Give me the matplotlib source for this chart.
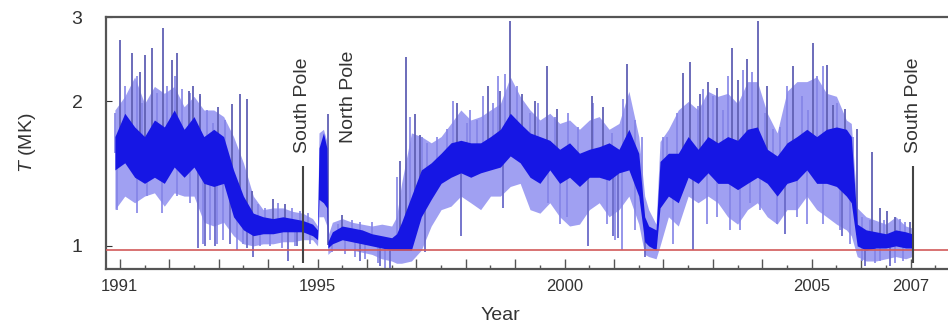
import matplotlib
matplotlib.use('Agg')
import matplotlib.pyplot as plt
import numpy as np

# time grid (years) and band edges, T in MK
years = [1990.9, 1991.1, 1991.3, 1991.5, 1991.7, 1991.9, 1992.1, 1992.3, 1992.5, 1992.7,
         1992.9, 1993.1, 1993.3, 1993.5, 1993.7, 1993.9, 1994.1, 1994.3, 1994.5, 1994.7,
         1994.9, 1995.0, 1995.03, 1995.12, 1995.19, 1995.21, 1995.3, 1995.5, 1995.7, 1995.9,
         1996.1, 1996.3, 1996.5, 1996.6, 1996.7, 1996.9, 1997.1, 1997.3, 1997.5, 1997.7,
         1997.9, 1998.1, 1998.3, 1998.5, 1998.7, 1998.9, 1999.1, 1999.3, 1999.5, 1999.7,
         1999.9, 2000.1, 2000.3, 2000.5, 2000.7, 2000.9, 2001.1, 2001.3, 2001.5, 2001.62,
         2001.7, 2001.85, 2001.93, 2002.1, 2002.3, 2002.5, 2002.7, 2002.9, 2003.1, 2003.3,
         2003.5, 2003.7, 2003.9, 2004.1, 2004.3, 2004.5, 2004.7, 2004.9, 2005.1, 2005.3,
         2005.5, 2005.7, 2005.8, 2005.92, 2006.1, 2006.3, 2006.5, 2006.7, 2006.9, 2007.03]
core_lo = [1.44, 1.49, 1.39, 1.35, 1.39, 1.35, 1.46, 1.39, 1.46, 1.35,
           1.33, 1.35, 1.15, 1.08, 1.05, 1.06, 1.06, 1.07, 1.07, 1.07,
           1.05, 1.03, 1.25, 1.23, 1.20, 0.99, 1.01, 1.03, 1.02, 1.01,
           1.00, 0.99, 0.98, 0.98, 0.98, 0.98, 1.15, 1.25, 1.35, 1.39,
           1.42, 1.39, 1.42, 1.44, 1.46, 1.54, 1.49, 1.39, 1.35, 1.44,
           1.35, 1.39, 1.33, 1.39, 1.39, 1.37, 1.42, 1.44, 1.27, 1.02,
           1.00, 0.98, 1.20, 1.27, 1.23, 1.39, 1.35, 1.42, 1.35, 1.35,
           1.31, 1.35, 1.39, 1.35, 1.27, 1.35, 1.37, 1.44, 1.35, 1.35,
           1.33, 1.27, 1.23, 1.00, 0.98, 0.99, 0.99, 1.00, 0.99, 0.99]
core_hi = [1.69, 1.89, 1.77, 1.69, 1.83, 1.77, 1.92, 1.75, 1.86, 1.69,
           1.75, 1.69, 1.44, 1.27, 1.17, 1.15, 1.14, 1.15, 1.14, 1.13,
           1.11, 1.08, 1.60, 1.72, 1.60, 1.02, 1.07, 1.10, 1.09, 1.08,
           1.06, 1.05, 1.04, 1.06, 1.12, 1.27, 1.44, 1.49, 1.56, 1.64,
           1.66, 1.64, 1.64, 1.69, 1.75, 1.89, 1.80, 1.72, 1.69, 1.66,
           1.59, 1.64, 1.56, 1.59, 1.61, 1.64, 1.59, 1.75, 1.56, 1.15,
           1.10, 1.08, 1.50, 1.56, 1.56, 1.69, 1.59, 1.69, 1.64, 1.69,
           1.66, 1.75, 1.77, 1.59, 1.54, 1.64, 1.69, 1.75, 1.69, 1.75,
           1.77, 1.75, 1.69, 1.11, 1.08, 1.07, 1.06, 1.08, 1.07, 1.06]
env_lo = [1.19, 1.27, 1.23, 1.27, 1.29, 1.21, 1.29, 1.27, 1.27, 1.12,
          1.10, 1.12, 1.05, 1.01, 1.00, 1.01, 1.01, 1.02, 1.02, 1.03,
          1.03, 1.00, 1.15, 1.15, 1.10, 0.96, 0.98, 0.98, 0.98, 0.97,
          0.96, 0.94, 0.93, 0.92, 0.92, 0.93, 0.98, 1.10, 1.19, 1.21,
          1.27, 1.23, 1.19, 1.27, 1.27, 1.33, 1.35, 1.19, 1.17, 1.23,
          1.15, 1.10, 1.11, 1.19, 1.23, 1.15, 1.19, 1.27, 1.11, 0.96,
          0.95, 0.94, 1.00, 1.15, 1.10, 1.27, 1.23, 1.27, 1.23, 1.15,
          1.11, 1.19, 1.23, 1.15, 1.11, 1.19, 1.19, 1.27, 1.19, 1.15,
          1.11, 1.08, 1.05, 0.95, 0.93, 0.93, 0.94, 0.95, 0.94, 0.95]
env_hi = [1.92, 2.05, 2.25, 1.98, 2.15, 2.08, 2.15, 1.95, 2.05, 1.92,
          1.92, 1.86, 1.69, 1.49, 1.27, 1.19, 1.20, 1.20, 1.18, 1.17,
          1.14, 1.10, 1.72, 1.75, 1.65, 1.05, 1.12, 1.14, 1.12, 1.11,
          1.10, 1.11, 1.10, 1.15, 1.35, 1.72, 1.69, 1.64, 1.69, 1.80,
          1.92, 1.83, 1.86, 1.92, 1.98, 2.25, 2.05, 1.92, 1.83, 1.89,
          1.80, 1.83, 1.75, 1.83, 1.86, 1.75, 1.80, 2.10, 1.69, 1.27,
          1.19, 1.11, 1.65, 1.75, 1.92, 2.00, 1.92, 2.10, 2.05, 2.08,
          1.98, 2.20, 2.20, 1.89, 1.72, 2.10, 2.20, 2.20, 2.25, 2.08,
          2.05, 1.83, 1.80, 1.20, 1.15, 1.13, 1.11, 1.15, 1.10, 1.09]

# isolated dark upward spikes (year, peak T)
spike_years = [1991.0, 1991.24, 1991.40, 1991.51, 1991.65, 1991.87, 1992.05, 1992.15, 1992.40, 1992.48,
               1992.62, 1992.98, 1993.27, 1993.43, 1993.57, 1993.67, 1994.10, 1994.34, 1995.21, 1995.49,
               1996.67, 1996.79, 1996.97, 1997.07, 1997.82, 1998.45, 1998.69, 1998.89, 1999.14, 1999.40,
               1999.64, 1999.85, 2000.55, 2000.78, 2001.26, 2002.40, 2002.54, 2002.74, 2002.90, 2003.09,
               2003.39, 2003.51, 2003.69, 2003.91, 2004.10, 2004.62, 2005.03, 2005.31, 2005.43, 2005.68,
               2005.92, 2006.22, 2006.38, 2006.53, 2006.69, 2006.99]
spike_tops = [2.69, 2.53, 2.30, 2.50, 2.58, 2.84, 2.44, 2.52, 2.10, 2.15,
              2.07, 1.95, 1.98, 2.07, 2.02, 1.30, 1.25, 1.22, 1.88, 1.16,
              1.50, 2.48, 1.88, 1.70, 1.99, 2.15, 2.10, 2.94, 2.07, 2.00,
              2.37, 1.93, 2.05, 1.95, 2.39, 2.29, 2.42, 2.07, 2.20, 2.13,
              2.58, 2.22, 2.45, 2.94, 2.15, 2.37, 2.65, 2.38, 1.97, 1.93,
              1.75, 1.57, 1.20, 1.18, 1.15, 1.12]

# dark downward spikes (year, lowest T)
dip_years = [1992.58, 1992.72, 1992.92, 1993.23, 1993.57, 1993.69, 1994.40, 1994.58, 1995.86, 1996.26,
             1996.47, 1997.17, 1997.90, 1998.75, 2000.47, 2000.98, 2001.08, 2001.63, 2002.60, 2004.46,
             2005.62, 2006.08, 2006.59]
dip_bottoms = [0.99, 1.00, 1.00, 1.01, 0.99, 0.95, 0.93, 1.00, 0.93, 0.91,
               0.90, 0.97, 1.05, 1.20, 1.00, 1.05, 1.04, 0.95, 0.98, 1.06,
               1.05, 0.91, 0.91]

# faint upward excursions (year, peak T)
faint_up_years = [1990.90, 1991.10, 1991.34, 1991.45, 1991.75, 1991.95, 1992.11, 1992.26, 1992.42, 1992.62,
                  1992.76, 1992.88, 1993.13, 1993.79, 1993.94, 1994.20, 1994.48, 1994.64, 1994.81, 1995.41,
                  1995.70, 1995.86, 1996.10, 1996.61, 1996.87, 1997.11, 1997.21, 1997.42, 1997.62, 1997.74,
                  1998.02, 1998.09, 1998.23, 1998.35, 1998.55, 1998.65, 1998.79, 1999.04, 1999.30, 1999.46,
                  1999.81, 2000.07, 2000.27, 2000.57, 2000.96, 2001.18, 2001.43, 2001.57, 2001.99, 2002.07,
                  2002.28, 2002.70, 2002.80, 2003.00, 2003.21, 2003.31, 2003.61, 2003.79, 2004.06, 2004.22,
                  2004.36, 2004.50, 2004.81, 2004.93, 2005.11, 2005.23, 2005.51, 2005.84, 2006.02, 2006.18,
                  2006.47, 2006.79, 2006.89]
faint_up_tops = [1.89, 2.15, 2.26, 1.99, 2.08, 2.15, 2.26, 2.12, 2.08, 2.05,
                 1.92, 1.80, 1.83, 1.22, 1.20, 1.23, 1.20, 1.18, 1.17, 1.11,
                 1.13, 1.12, 1.12, 1.39, 1.86, 1.69, 1.64, 1.69, 1.75, 2.00,
                 1.80, 1.92, 1.83, 2.05, 1.99, 2.26, 2.28, 2.15, 1.89, 1.99,
                 1.86, 1.89, 1.77, 1.99, 1.72, 2.02, 1.83, 1.69, 1.69, 1.69,
                 1.89, 1.96, 2.12, 2.05, 1.92, 2.26, 2.33, 2.30, 1.89, 1.75,
                 1.77, 2.15, 2.05, 1.92, 2.26, 2.37, 1.99, 1.69, 1.15, 1.13,
                 1.13, 1.14, 1.12]

# faint downward excursions (year, lowest T)
faint_dn_years = [1990.94, 1991.34, 1991.55, 1991.85, 1992.15, 1992.42, 1992.68, 1992.82, 1992.96, 1993.09,
                  1993.37, 1993.49, 1993.83, 1994.04, 1994.28, 1994.54, 1994.85, 1995.29, 1995.55, 1995.76,
                  1995.96, 1996.22, 1996.36, 1999.66, 1999.91, 2000.05, 2000.86, 2001.02, 2001.16, 2001.43,
                  2002.19, 2002.88, 2003.08, 2003.35, 2003.55, 2003.75, 2003.96, 2004.30, 2004.70, 2004.91,
                  2005.23, 2005.57, 2005.78, 2006.02, 2006.28, 2006.38, 2006.69, 2006.85]
faint_dn_bottoms = [1.19, 1.17, 1.27, 1.17, 1.27, 1.23, 1.01, 1.03, 1.01, 1.03,
                    0.98, 1.01, 1.00, 1.00, 0.99, 1.00, 1.01, 0.97, 0.96, 0.95,
                    0.94, 0.92, 0.90, 1.23, 1.11, 1.15, 1.11, 1.03, 0.98, 1.08,
                    1.01, 1.11, 1.15, 1.08, 1.08, 1.23, 1.19, 1.11, 1.15, 1.11,
                    1.11, 1.08, 1.01, 0.93, 0.92, 0.93, 0.92, 0.93]

pole_years = [1994.7, 2007.05]
pole_text = ['South Pole', 'South Pole']
north_year = 1995.62
baseline = 0.98
label_years = [1991, 1995, 2000, 2005, 2007]

plt.rcParams['font.family'] = ['Liberation Sans', 'DejaVu Sans']
plt.rcParams['mathtext.fontset'] = 'custom'
plt.rcParams['mathtext.it'] = 'Liberation Sans:italic'
plt.rcParams['mathtext.rm'] = 'Liberation Sans'

fig = plt.figure(figsize=(9.48, 3.29), dpi=100)
ax = fig.add_axes([106 / 948, 60 / 329, 854 / 948, 252 / 329])

yrs = np.array(years)
mid = np.sqrt(np.array(core_lo) * np.array(core_hi))

ax.fill_between(yrs, env_lo, env_hi, color='#a0a0f2', lw=0, zorder=1)
ax.vlines(faint_up_years, np.interp(faint_up_years, yrs, mid), faint_up_tops,
          color='#8484e6', lw=1.2, zorder=2)
ax.vlines(faint_dn_years, faint_dn_bottoms, np.interp(faint_dn_years, yrs, mid),
          color='#8484e6', lw=1.2, zorder=2)
ax.vlines(spike_years, np.interp(spike_years, yrs, mid), spike_tops,
          color='#6060b4', lw=1.3, zorder=2)
ax.vlines(dip_years, dip_bottoms, np.interp(dip_years, yrs, mid),
          color='#6a6ac8', lw=1.3, zorder=2)
ax.fill_between(yrs, core_lo, core_hi, color='#1616e4', lw=0, zorder=3)
ax.axhline(baseline, color='#d25a5a', lw=1.2, zorder=4)

ax.vlines(pole_years, 0.92, 1.47, color='#444444', lw=1.5, zorder=5)
for yr, txt in zip(pole_years, pole_text):
    ax.text(yr, 1.56, txt, rotation=90, ha='center', va='bottom',
            fontsize=14, color='#333333')
ax.text(north_year, 1.64, 'North Pole', rotation=90, ha='center', va='bottom',
        fontsize=14, color='#333333')

ax.set_yscale('log')
ax.set_ylim(0.895, 3.0)
ax.set_xlim(1990.72, 2008.0)
ax.set_yticks([1, 2, 3])
ax.set_yticklabels(['1', '2', '3'])
ax.yaxis.set_minor_locator(matplotlib.ticker.NullLocator())
ax.tick_params(axis='y', direction='in', length=4, pad=17, labelsize=14,
               colors='#333333')

major = list(range(1991, 2008))
ax.set_xticks(major)
ax.set_xticklabels([str(y) if y in label_years else '' for y in major])
ax.set_xticks([y + 0.5 for y in range(1991, 2008)], minor=True)
ax.tick_params(axis='x', which='major', direction='in', length=7, width=1,
               pad=7, labelsize=12, colors='#555555', labelcolor='#333333')
ax.tick_params(axis='x', which='minor', direction='in', length=3, width=1,
               colors='#555555')

for s in ax.spines.values():
    s.set_color('#555555')
    s.set_linewidth(1.6)

fig.text(28 / 948, 1 - 143 / 329, '$T$ (MK)', rotation=90, ha='center', va='center',
         fontsize=14, color='#333333')
fig.text(500 / 948, 1 - 315 / 329, 'Year', ha='center', va='center',
         fontsize=14, color='#333333')

fig.savefig('out.png', dpi=100)
